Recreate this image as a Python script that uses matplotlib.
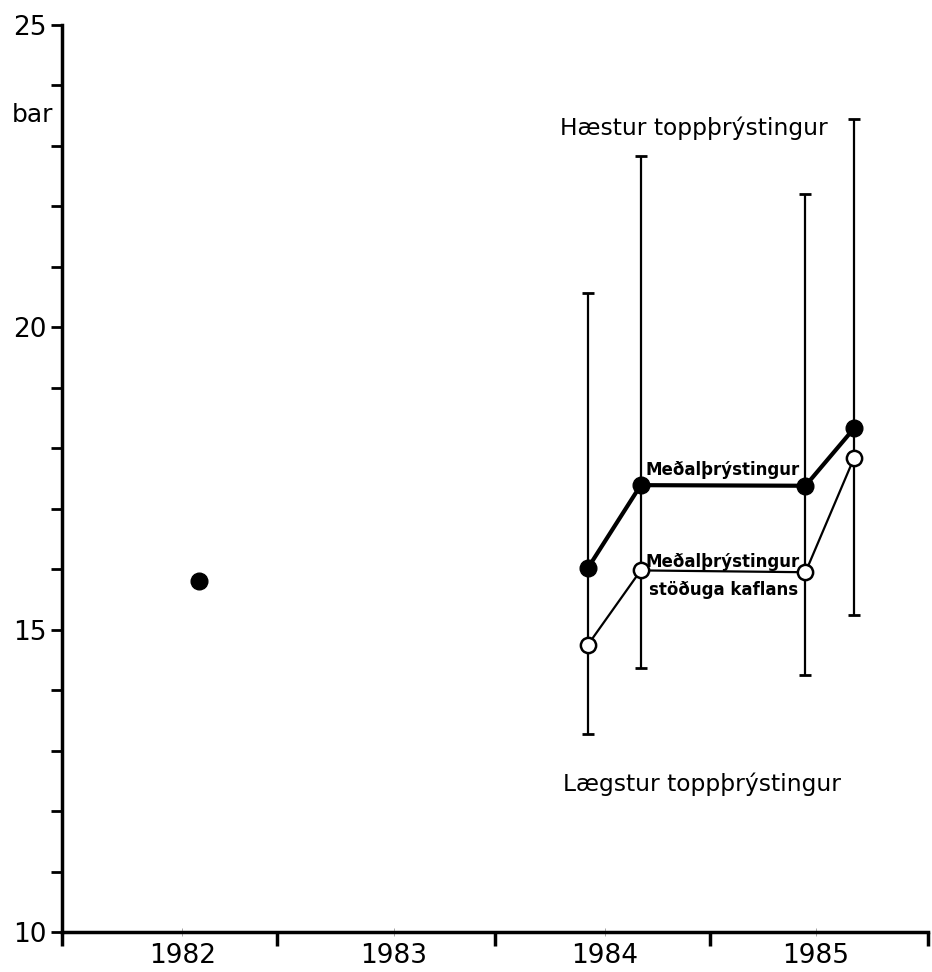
import numpy as np
import matplotlib
matplotlib.use('Agg')
import matplotlib.pyplot as plt

plt.rcParams['font.family'] = ['DejaVu Sans']

# data (years as decimal, pressure in bar)
year_labels = ['1982', '1983', '1984', '1985']
year_marks = [1982, 1983, 1984, 1985]
year_bounds = [1981.43, 1982.45, 1983.48, 1984.50, 1985.53]

single_x = [1982.08]
single_y = [15.8]

x = np.array([1983.92, 1984.17, 1984.95, 1985.18])
mean_p = np.array([16.02, 17.39, 17.38, 18.33])        # Meðalþrýstingur
steady_p = np.array([14.75, 15.98, 15.95, 17.84])      # Meðalþrýstingur stöðuga kaflans
top_p = np.array([20.57, 22.83, 22.2, 23.44])          # Hæstur toppþrýstingur
low_p = np.array([13.27, 14.37, 14.25, 15.24])         # Lægstur toppþrýstingur

fig = plt.figure(figsize=(9.32, 9.72), dpi=100)
ax = fig.add_axes([62/932, 1-932/972, (928-62)/932, (932-25)/972])

ax.errorbar(x, mean_p, yerr=[mean_p-low_p, top_p-mean_p], fmt='none',
            ecolor='black', elinewidth=1.6, capsize=4.5, capthick=2, zorder=1)
ax.plot(x, mean_p, '-o', color='black', lw=3, ms=12, zorder=3)
ax.plot(x, steady_p, '-o', color='black', lw=1.6, ms=11, mfc='white',
        mew=1.8, zorder=3)
ax.plot(single_x, single_y, 'o', color='black', ms=12)

ax.text(1983.79, 23.3, 'Hæstur toppþrýstingur', fontsize=16.8, va='center')
ax.text(1983.80, 12.45, 'Lægstur toppþrýstingur', fontsize=16.8, va='center')
ax.text(1984.56, 17.64, 'Meðalþrýstingur', fontsize=12, fontweight='bold',
        ha='center', va='center')
ax.text(1984.56, 16.12, 'Meðalþrýstingur', fontsize=12, fontweight='bold',
        ha='center', va='center')
ax.text(1984.56, 15.66, 'stöðuga kaflans', fontsize=12, fontweight='bold',
        ha='center', va='center')

ax.set_xlim(year_bounds[0], year_bounds[-1])
ax.set_ylim(10, 25)

for s in ['top', 'right']:
    ax.spines[s].set_visible(False)
for s in ['left', 'bottom']:
    ax.spines[s].set_linewidth(2.5)

ax.set_yticks([10, 15, 20, 25])
ax.set_yticks(np.arange(10, 26, 1), minor=True)
ax.tick_params(axis='y', which='both', direction='out', length=8, width=2,
               labelsize=19, pad=3)

ax.set_xticks(year_marks)
ax.set_xticklabels(year_labels)
ax.set_xticks(year_bounds, minor=True)
ax.tick_params(axis='x', which='major', direction='inout', length=6, width=0.6,
               color='#999999', labelsize=19, pad=5)
ax.tick_params(axis='x', which='minor', direction='out', length=10, width=2.5)

fig.text(33/932, 1-115/972, 'bar', fontsize=18, ha='center', va='center')

fig.savefig('out.png', dpi=100)
